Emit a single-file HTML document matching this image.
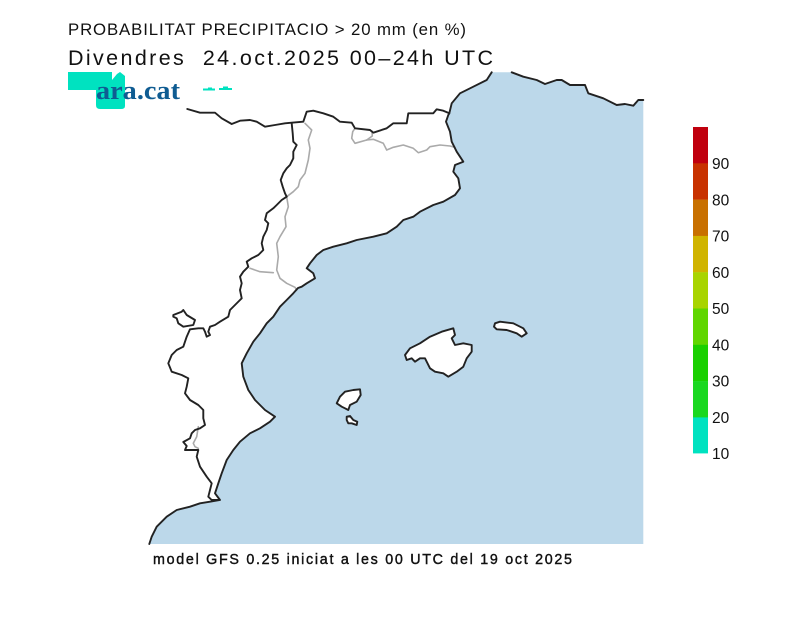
<!DOCTYPE html>
<html><head><meta charset="utf-8"><style>
html,body{margin:0;padding:0;background:#fff;}
svg{display:block;}
</style></head><body>
<svg width="800" height="617" viewBox="0 0 800 617" xmlns="http://www.w3.org/2000/svg">
<rect width="800" height="617" fill="#fff"/>
<!-- sea -->
<path fill="#bcd8ea" d="M149.3,544 L151.7,536.7 L156.7,526.7 L166.7,516.7 L176.7,510 L190,506.7 L200,503.3 L210,501.7 L220,500 L215,493.3 L218.3,483.3 L221.7,473.3 L226.7,460 L233.3,450 L240,441.7 L250,433.3 L260,428.3 L270,421.7 L275,416.7 L265,410 L255,400 L248.3,390 L243.3,376.7 L241.7,363.3 L246.7,353.3 L253.3,341.7 L260,333.3 L266.7,323.3 L273.3,316.7 L280,306.7 L286.7,300 L293.3,293.3 L298,288 L301.7,286.7 L306.7,283.3 L315,278.3 L313.3,273.3 L306.7,268.3 L310,263.3 L316.7,255 L323.3,250 L333.3,246.7 L346.7,243.3 L356.7,240 L373.3,236.7 L386.7,233.3 L396.7,226.7 L403.3,220 L413.3,216.7 L420,211.7 L433.3,205 L443.3,201.7 L455,195 L460,188.3 L458.3,178.3 L453.3,171.7 L455,165 L463.3,161.7 L456.7,151.7 L451.7,141.7 L450,131.7 L446,121.7 L448.3,115 L449.3,113.3 L451.7,103.3 L460,93.3 L473.3,86.7 L486.7,80 L491.7,72.3 L511.7,72.3 L523.3,76.7 L536.7,80 L545,84 L556.7,80 L561.7,80 L570,85 L585,85 L588.3,93.3 L603.3,98.3 L616.7,105 L625,104 L633.3,105.7 L638.3,100 L643.3,100 L643.3,544 Z"/>
<!-- islands -->
<g fill="#fff" stroke="#222" stroke-width="1.9" stroke-linejoin="round">
<path d="M405,355 L410,348.3 L420,343.3 L430,336.7 L441.7,331.7 L453.3,328.3 L455,335 L451.7,338.3 L455,345 L463.3,343.3 L471.7,345 L471.7,351.7 L466.7,358.3 L463.3,366.7 L456.7,371.7 L448.3,376.7 L443.3,373.3 L435,371.7 L430,368.3 L425,358.3 L420,358.3 L415,361.7 L411.7,358.3 L406.7,360 Z"/>
<path d="M495,323.3 L500,321.7 L513.3,323.3 L523.3,328.3 L526.7,333.3 L521.7,336.7 L516.7,333.3 L506.7,330 L496.7,329.3 L494,326.7 Z"/>
<path d="M336.7,403.3 L340,396.7 L345,391.7 L353.3,390 L360,389.3 L360.7,395 L356.7,401.7 L350,405 L348.3,410 L345,408.3 L341.7,406.7 Z"/>
<path d="M346.7,416.7 L350,416 L353.3,420 L357.3,421.7 L356.7,425 L351.7,423.3 L348.3,423.3 L346.7,420 Z"/>
<path d="M173.3,315 L181.7,311.7 L183.3,310 L186.7,315 L195,320 L193.3,325 L183.3,326.7 L178.3,323.3 L176.7,318.3 L173.3,316.7 Z"/>
</g>
<!-- gray province borders -->
<g fill="none" stroke="#aaa" stroke-width="1.6" stroke-linejoin="round" stroke-linecap="round">
<polyline points="305,123.3 311.7,130 308.3,140 310,148.3 308.3,160 305,173.3 300,180 298.3,186.7 293.3,191.7 286.7,196.7 288.3,206.7 285,216.7 286,226.7 280,236.7 276.7,243.3 278.3,256.7 276.7,270 280,278.3 286.7,283.3 295,287.3 296.7,290"/>
<polyline points="250,268.3 260,271.7 273.3,272.7"/>
<polyline points="355,128.3 352.7,131.7 351.7,138.3 355,143.3 366.7,140 373.3,139.3 383.3,143.3 386.7,150 393.3,147.3 403.3,145 413.3,148.3 418.3,152.7 426.7,150 430,146.7 440,145 450,146 455,147.3"/>
<polyline points="372,131 372.3,136 366.7,140"/>
<polyline points="198.3,426.7 196.7,436.7 193.3,443.3 195,446.7 198.3,448.3"/>
</g>
<!-- black lines -->
<g fill="none" stroke="#222" stroke-width="1.9" stroke-linejoin="round" stroke-linecap="round">
<polyline points="149.3,544 151.7,536.7 156.7,526.7 166.7,516.7 176.7,510 190,506.7 200,503.3 210,501.7 220,500 215,493.3 218.3,483.3 221.7,473.3 226.7,460 233.3,450 240,441.7 250,433.3 260,428.3 270,421.7 275,416.7 265,410 255,400 248.3,390 243.3,376.7 241.7,363.3 246.7,353.3 253.3,341.7 260,333.3 266.7,323.3 273.3,316.7 280,306.7 286.7,300 293.3,293.3 298,288 301.7,286.7 306.7,283.3 315,278.3 313.3,273.3 306.7,268.3 310,263.3 316.7,255 323.3,250 333.3,246.7 346.7,243.3 356.7,240 373.3,236.7 386.7,233.3 396.7,226.7 403.3,220 413.3,216.7 420,211.7 433.3,205 443.3,201.7 455,195 460,188.3 458.3,178.3 453.3,171.7 455,165 463.3,161.7 456.7,151.7 451.7,141.7 450,131.7 446,121.7 448.3,115 449.3,113.3 451.7,103.3 460,93.3 473.3,86.7 486.7,80 491.7,72.3"/>
<polyline points="511.7,72.3 523.3,76.7 536.7,80 545,84 556.7,80 561.7,80 570,85 585,85 588.3,93.3 603.3,98.3 616.7,105 625,104 633.3,105.7 638.3,100 643.3,100"/>
<polyline points="187.3,109 200,112.7 215,112.7 221.7,118.3 231.7,124 240,120.7 250,120 256.7,121.7 265,126.7 275,125 285,123.3 291.7,122.7 303.3,121.7 306.7,111.7 313.3,110.7 323.3,113.3 333.3,116.7 340,121.7 351.7,122.7 355,128.3 370,130 373.3,132.7 386.7,128.3 393.3,123.3 406.7,123.3 408.3,113.3 423.3,113.3 433.3,113.3 436.7,109.3 443.3,110.7 449.3,113.3"/>
<polyline points="291.7,123.3 292.7,133.3 293.3,141.7 296.7,145 293.3,151.7 293.3,158.3 290,165 286.7,168.3 283.3,173.3 280.7,180 282.7,186.7 285,193.3 286.7,196.7 281.7,200 276.7,205 273.3,208.3 266.7,213.3 265,220 268.3,223.3 266.7,230 263.3,236.7 261.7,243.3 263.3,250 258.3,255 251.7,258.3 246.7,261.7 248.3,266.7 243.3,271.7 240,276.7 241.7,283.3 240,290 241.7,298.3 240,300 235,305 230,310 228.3,316.7 220,321.7 215,325 210,326.7 208.3,331.7 210,335 206.7,336.7 205,331.7 203.3,328.3 198.3,328.3 190,329.3 186.7,336.7 183.3,346.7 176.7,350 171.7,355 168.3,363.3 171.7,371.7 181.7,375 188.3,378.3 186.7,386.7 185,393.3 190,400 198.3,405 203.3,410 203.3,418.3 205,425 200,428.3 195,430 191.7,433.3 190,438.3 183.3,442 186.7,446 185,450 198.3,450 196.7,456.7 200,466.7 206.7,476.7 211.7,483.3 210,490 208.3,496.7 211.7,500 218.3,500"/>
</g>
<!-- logo -->
<g fill="#00e2c0">
<rect x="68" y="72" width="44" height="18"/>
<path d="M96,86 L112,80 L117,74 L120,72 L125,76 L125,106 Q125,109 121,109 L100,109 Q96,109 96,105 Z"/>
<rect x="203" y="88.5" width="12" height="2"/>
<rect x="219" y="88" width="13" height="2"/>
<rect x="208" y="87.5" width="4" height="1"/>
<rect x="223" y="86.5" width="5" height="1.5"/>
</g>
<text x="96" y="99" font-family="Liberation Serif, serif" font-weight="bold" font-size="26" fill="#0f5c92" textLength="84" lengthAdjust="spacingAndGlyphs">ara.cat</text>
<!-- titles -->
<text x="68" y="35" font-family="Liberation Sans, sans-serif" font-size="16.8" fill="#111" textLength="398" lengthAdjust="spacing">PROBABILITAT PRECIPITACIO &gt; 20 mm (en %)</text>
<text x="68" y="65" font-family="Liberation Sans, sans-serif" font-size="21.5" fill="#111" textLength="425" lengthAdjust="spacing" xml:space="preserve">Divendres  24.oct.2025 00–24h UTC</text>
<text x="153" y="564" font-family="Liberation Sans, sans-serif" font-size="14.3" fill="#111" stroke="#111" stroke-width="0.4" textLength="419" lengthAdjust="spacing">model GFS 0.25 iniciat a les 00 UTC del 19 oct 2025</text>
<!-- colorbar -->
<g>
<rect x="693" y="127" width="15" height="36.5" fill="#c0000e"/>
<rect x="693" y="163.3" width="15" height="36.5" fill="#c83200"/>
<rect x="693" y="199.6" width="15" height="36.5" fill="#c87000"/>
<rect x="693" y="235.9" width="15" height="36.5" fill="#d0b400"/>
<rect x="693" y="272.2" width="15" height="36.5" fill="#a8d400"/>
<rect x="693" y="308.5" width="15" height="36.5" fill="#60d600"/>
<rect x="693" y="344.8" width="15" height="36.5" fill="#1ad000"/>
<rect x="693" y="381.1" width="15" height="36.5" fill="#1ad820"/>
<rect x="693" y="417.4" width="15" height="36" fill="#00e2c0"/>
</g>
<g font-family="Liberation Sans, sans-serif" font-size="15.5" fill="#111">
<text x="712" y="169">90</text>
<text x="712" y="205.5">80</text>
<text x="712" y="241.5">70</text>
<text x="712" y="278">60</text>
<text x="712" y="314">50</text>
<text x="712" y="350.5">40</text>
<text x="712" y="386.5">30</text>
<text x="712" y="423">20</text>
<text x="712" y="459">10</text>
</g>
</svg>
</body></html>
